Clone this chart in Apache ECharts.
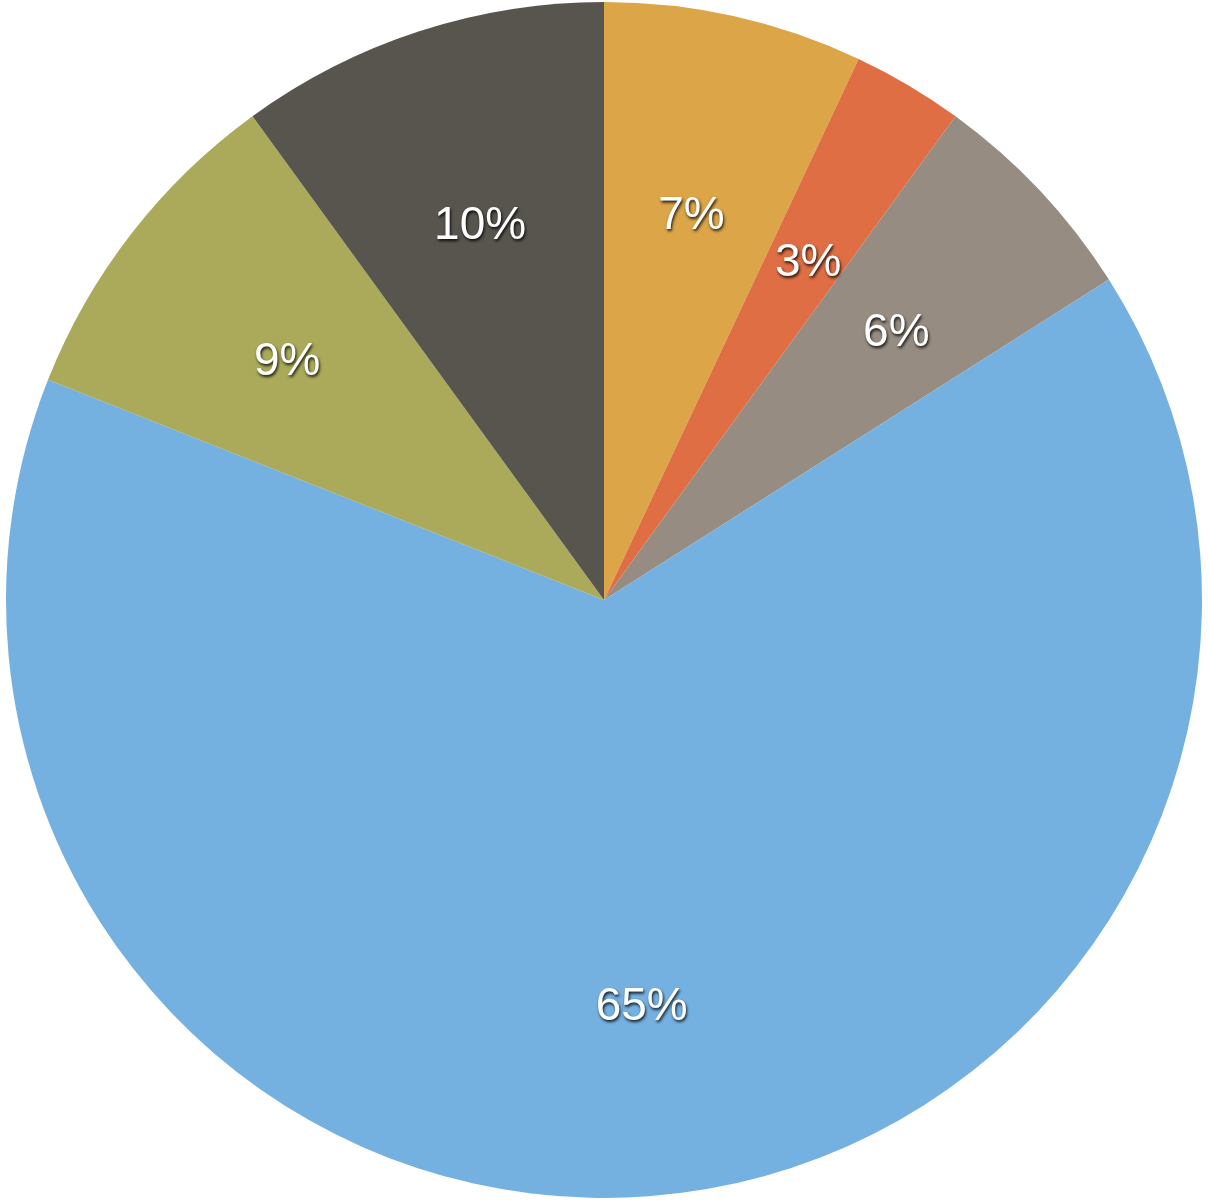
<!DOCTYPE html>
<html>
<head>
<meta charset="utf-8">
<script src="https://cdn.jsdelivr.net/npm/echarts@6/dist/echarts.min.js"></script>
<style>
html,body{margin:0;padding:0;background:#fff;}
#chart{width:1208px;height:1200px;}
</style>
</head>
<body>
<div id="chart"></div>
<script>
const categories = ['A', 'B', 'C', 'D', 'E', 'F'];
const values = [7, 3, 6, 65, 9, 10];
const colors = ['#DBA548', '#DF6E44', '#968C82', '#75B1E0', '#AAAA5A', '#58544E'];

const chart = echarts.init(document.getElementById('chart'), null, {renderer: 'canvas'});
const sliceData = categories.map((c, i) => ({name: c, value: values[i], itemStyle: {color: colors[i]}}));
const labelData = categories.map((c, i) => ({name: c, value: values[i]}));
chart.setOption({
  animation: false,
  series: [
    {
      type: 'pie',
      center: ['50%', '50%'],
      radius: [0, 598],
      startAngle: 90,
      clockwise: true,
      label: {show: false},
      labelLine: {show: false},
      silent: true,
      data: sliceData
    },
    {
      type: 'pie',
      center: ['50%', '50%'],
      radius: [198, 598],
      startAngle: 90,
      clockwise: true,
      itemStyle: {color: 'rgba(0,0,0,0)'},
      silent: true,
      label: {
        show: true,
        position: 'inside',
        formatter: p => p.value + '%',
        color: '#ffffff',
        fontFamily: 'Liberation Sans, Helvetica, Arial, sans-serif',
        fontSize: 46,
        offset: [0, 8],
        textShadowColor: 'rgba(0,0,0,0.85)',
        textShadowBlur: 3,
        textShadowOffsetX: 1,
        textShadowOffsetY: 2
      },
      labelLine: {show: false},
      data: labelData
    }
  ]
});
</script>
</body>
</html>
